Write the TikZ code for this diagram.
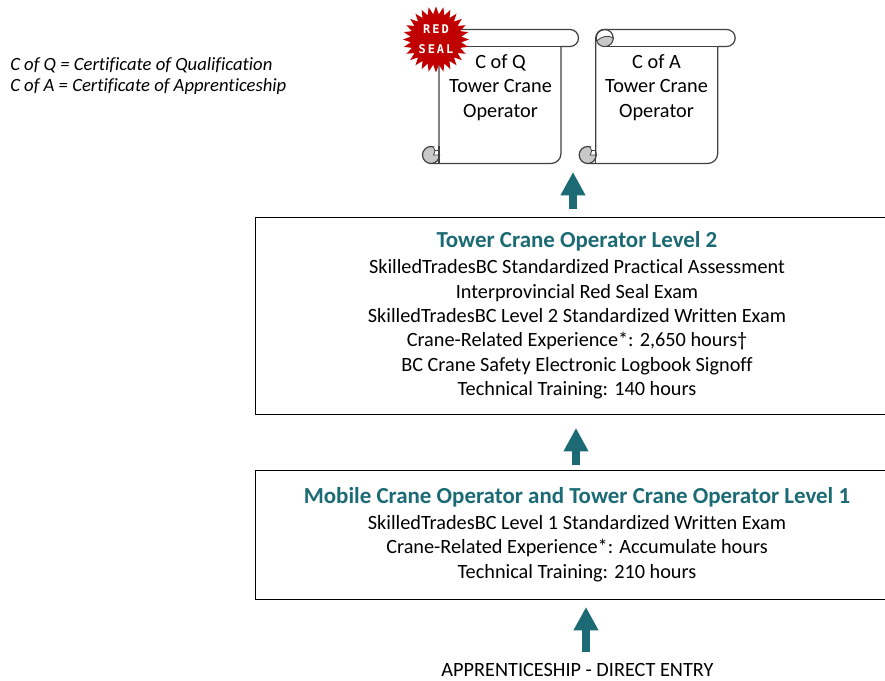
\documentclass[tikz,border=0pt]{standalone}
\usepackage{fontspec}
\setmainfont[Ligatures=NoCommon]{Carlito}
\newfontfamily\sealfont{DejaVu Sans Mono}
\usetikzlibrary{arrows.meta,shapes.geometric}
\definecolor{tealhead}{HTML}{1B6A74}
\definecolor{sealred}{HTML}{C00000}
\definecolor{curlgray}{HTML}{C8C8C8}
\definecolor{scrollline}{HTML}{404040}

\begin{document}
\begin{tikzpicture}[x=0.75pt,y=-0.75pt,
  stagebox/.style={shape=rectangle,draw=black,line width=0.6pt,minimum width=644*0.75pt,align=center,inner sep=0pt,font=\fontsize{15.2}{18.3}\selectfont},
  scrolltext/.style={align=center,inner sep=0pt,font=\fontsize{15.2}{18.6}\selectfont},
  legend/.style={anchor=west,inner sep=0pt,font=\fontsize{14}{16}\selectfont\itshape},
  uparrow/.style={line width=6.4pt,color=tealhead,-{Triangle[width=17.5pt,length=17.5pt]}},
  scrollpic/.pic={
    \draw[scrollline,line width=0.9pt,fill=white,line join=round]
      (0,126) -- (0,8.5) arc[start angle=180,end angle=270,radius=8.5]
      -- (131,0) arc[start angle=-90,end angle=90,radius=8.5] -- (122,17)
      -- (122,124) arc[start angle=0,end angle=90,radius=10] -- (-8,134);
    \draw[scrollline,line width=0.9pt] (122,17) -- (9,17);
    \draw[scrollline,line width=0.9pt] (9,8.5) circle[radius=8.5];
    \draw[scrollline,line width=0.6pt,fill=curlgray]
      (17.5,8.5) arc[start angle=0,end angle=160,radius=8.5] .. controls (6,7) and (12,5) .. cycle;
    \draw[scrollline,line width=0.9pt,fill=curlgray] (-8,125.5) circle[radius=8.5];
    \fill[white] (-5.5,117.6) .. controls (-3.5,120) and (-3.5,123) .. (-5.5,125.5) -- (0,125.5) -- (0,117.6) -- cycle;
    \draw[scrollline,line width=0.6pt] (-5.5,117.6) .. controls (-3.5,120) and (-3.5,123) .. (-5.5,125.5) -- (0,125.5);
    \draw[scrollline,line width=0.6pt] (-4,121) -- (0,121);
    \draw[scrollline,line width=0.9pt] (0,117) -- (0,134);
  }]
\useasboundingbox (0,0) rectangle (885,681);

% legend
\node[legend] (legq) at (10,65) {C of Q = Certificate of Qualification};
\node[legend] (lega) at (10,87) {C of A = Certificate of Apprenticeship};

% scrolls
\pic at (439,29.5) {scrollpic};
\pic at (595.7,29.5) {scrollpic};
\node[scrolltext] (cofq) at (500.5,87.5) {C of Q\\Tower Crane\\Operator};
\node[scrolltext] (cofa) at (656.5,87.5) {C of A\\Tower Crane\\Operator};

% seal
\node[shape=star,star points=28,star point ratio=1.3,minimum size=66*0.75pt,inner sep=0pt,fill=sealred,text=white,align=center,font=\fontsize{9}{15}\sealfont\bfseries] (seal) at (436,39.5) {R\,E\,D\\S\,E\,A\,L};

% levels
\node[stagebox,minimum height=197*0.75pt] (level2) at (577,315.5) {{\fontsize{17.2}{18.3}\selectfont\bfseries\color{tealhead}Tower Crane Operator Level 2}\\[1pt]
  SkilledTradesBC Standardized Practical Assessment\\
  Interprovincial Red Seal Exam\\
  SkilledTradesBC Level 2 Standardized Written Exam\\
  Crane-Related Experience*: 2,650 hours†\\
  BC Crane Safety Electronic Logbook Signoff\\
  Technical Training: 140 hours};
\node[stagebox,minimum height=129*0.75pt] (level1) at (577,534.5) {{\fontsize{17.2}{18.3}\selectfont\bfseries\color{tealhead}Mobile Crane Operator and Tower Crane Operator Level 1}\\[1pt]
  SkilledTradesBC Level 1 Standardized Written Exam\\
  Crane-Related Experience*: Accumulate hours\\
  Technical Training: 210 hours};
\node[inner sep=0pt,font=\fontsize{15.2}{16}\selectfont] (entry) at (577.5,670) {APPRENTICESHIP - DIRECT ENTRY};

% arrows
\coordinate (a1s) at (573,209);
\coordinate (a1e) at (573,172);
\coordinate (a2s) at (576,465);
\coordinate (a2e) at (576,428);
\coordinate (a3s) at (586,652);
\coordinate (a3e) at (586,607);
\draw[uparrow] (a1s) -- (a1e);
\draw[uparrow] (a2s) -- (a2e);
\draw[uparrow] (a3s) -- (a3e);
\end{tikzpicture}
\end{document}
